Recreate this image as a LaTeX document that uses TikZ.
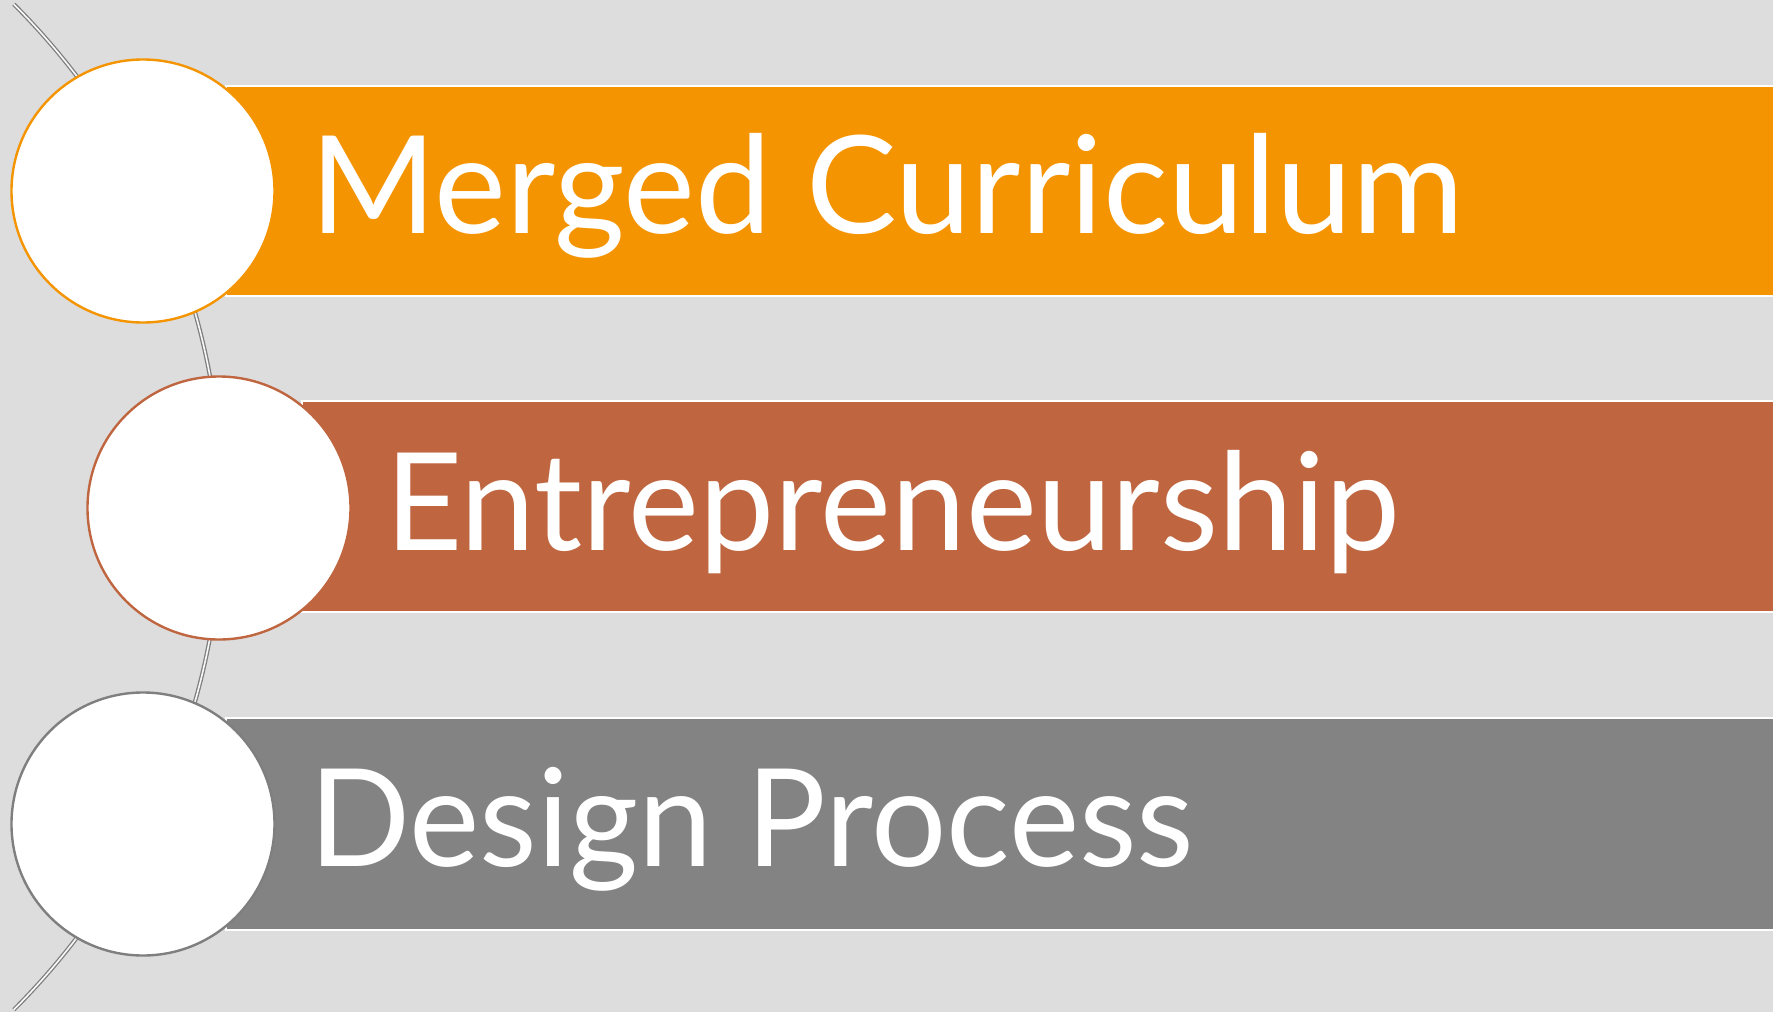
\documentclass[tikz,border=0pt]{standalone}
\usepackage{fontspec}
\setmainfont{Lato}
\usepackage{graphicx}
\definecolor{bgc}{HTML}{DDDDDD}
\definecolor{orangec}{HTML}{F59401}
\definecolor{brownc}{HTML}{BF6640}
\definecolor{grayc}{HTML}{838383}
\definecolor{linec}{HTML}{7F7F7F}
\tikzset{
  barbox/.style={draw=white, line width=2pt},
  dotcircle/.style={circle, fill=white, line width=2.4pt, minimum size=263pt, inner sep=0pt},
  label/.style={anchor=base west, inner sep=0pt, text=white, font=\fontsize{136}{140}\selectfont},
  backbone/.style={draw=linec, line width=1.3pt, double=white!80!bgc, double distance=1.6pt}
}
\begin{document}
\begin{tikzpicture}[x=1pt, y=-1pt]
\fill[bgc] (0,0) rectangle (1773,1012);
\useasboundingbox (0,0) rectangle (1773,1012);
% backbone arc
\coordinate (arcS) at (13.8,4.2);
\draw[backbone] (arcS) arc[start angle=-45, end angle=45, radius=711];
% bars
\filldraw[barbox, fill=orangec] (226,86) rectangle (1776,296);
\filldraw[barbox, fill=brownc] (302,401) rectangle (1776,612);
\filldraw[barbox, fill=grayc] (226,718) rectangle (1776,930);
% circles
\node[dotcircle, draw=orangec] (c1) at (143,191) {};
\node[dotcircle, draw=brownc] (c2) at (219,508) {};
\node[dotcircle, draw=linec] (c3) at (143,824) {};
% labels
\node[label] (t1) at (310,233) {\resizebox{1153pt}{\height}{Merged Curriculum}};
\node[label] (t2) at (385,550) {\resizebox{1015pt}{\height}{Entrepreneurship}};
\node[label] (t3) at (309,866) {\resizebox{885pt}{\height}{Design Process}};
\end{tikzpicture}
\end{document}
